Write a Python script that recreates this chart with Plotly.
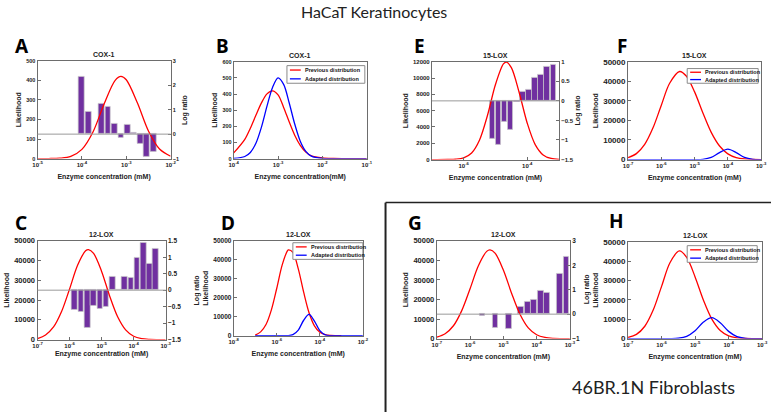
import plotly.graph_objects as go

W, H = 777, 417

# ---------------- data (x values are log10 of enzyme concentration, mM) ----------------
# A: COX-1 (HaCaT)
a_bar_x = [-4.00, -3.85, -3.56, -3.41, -3.27, -3.12, -2.97, -2.83, -2.68, -2.54, -2.38]
a_bar_y = [2.33, 0.93, 1.23, 1.12, 0.43, -0.13, 0.37, 0.04, -0.40, -0.93, -0.71]
a_prev_x = [-5, -4.75, -4.5, -4.25, -4.0, -3.75, -3.5, -3.25, -3.12, -3.0, -2.75, -2.5, -2.25, -2.0]
a_prev_y = [0, 0.2, 2, 11, 47, 136, 279, 400, 420, 403, 285, 141, 49, 12]

# B: COX-1 previous vs adapted
b_x = [-4, -3.75, -3.625, -3.5, -3.375, -3.25, -3.125, -3.0, -2.875, -2.75, -2.625, -2.5,
       -2.375, -2.25, -2.0, -1.75, -1.5, -1.0]
b_prev = [35, 119, 188, 268, 345, 401, 420, 395, 317, 228, 145, 82, 40, 17, 4, 0.5, 0, 0]
b_adapt = [0.8, 13, 38, 95, 195, 325, 441, 500, 460, 346, 214, 108, 45, 15, 1, 0, 0, 0]

# E: 15-LOX (HaCaT)
e_bar_x = [-5.10, -4.91, -4.72, -4.53, -4.33, -4.14, -3.95, -3.76, -3.57, -3.38, -3.19]
e_bar_y = [-0.96, -1.11, -0.54, -0.75, -0.03, 0.24, 0.28, 0.58, 0.68, 0.875, 0.93]
e_prev_x = [-7, -6.5, -6.25, -6.0, -5.75, -5.5, -5.25, -5.0, -4.75, -4.66, -4.5, -4.25, -4.0,
            -3.75, -3.5, -3.25, -3.0]
e_prev_y = [0, 6, 39, 206, 811, 2410, 5430, 9200, 11730, 11950, 11280, 8170, 4460, 1840, 570, 133, 20]

# F: 15-LOX previous vs adapted
f_prev_x = [-7, -6.75, -6.5, -6.25, -6.0, -5.75, -5.45, -5.25, -5.0, -4.75, -4.5, -4.25, -4.0,
            -3.75, -3.5, -3.25, -3.0]
f_prev_y = [980, 3030, 7750, 16200, 27800, 38980, 45000, 42700, 34600, 23800, 13900, 6940, 2930,
            1050, 320, 80, 15]
f_adapt_x = [-7, -6, -5.25, -5.0, -4.75, -4.5, -4.25, -4.0, -3.75, -3.5, -3.25, -3.0]
f_adapt_y = [0, 0, 0, 9, 150, 1090, 3590, 5350, 3590, 1090, 150, 9]

# C: 12-LOX (HaCaT)
c_bar_x = [-5.84, -5.64, -5.44, -5.25, -5.05, -4.86, -4.66, -4.47, -4.28, -4.08, -3.89, -3.70, -3.50, -3.31]
c_bar_y = [-0.59, -0.66, -1.14, -0.47, -0.56, -0.49, 0.41, 0.02, 0.41, 0.38, 0.99, 1.45, 0.79, 1.25]
c_prev_x = [-7, -6.75, -6.5, -6.25, -6.0, -5.75, -5.5, -5.41, -5.25, -5.0, -4.75, -4.5, -4.25,
            -4.0, -3.75, -3.5, -3.25, -3.0]
c_prev_y = [500, 2340, 6380, 14180, 25600, 37600, 44900, 45500, 43600, 34500, 22100, 11550, 4920,
            1690, 480, 110, 20, 0]

# D: 12-LOX previous vs adapted (HaCaT)
d_prev_x = [-7, -6.75, -6.5, -6.25, -6.0, -5.75, -5.5, -5.46, -5.25, -5.0, -4.75, -4.5, -4.25,
            -4.0, -3.75, -3.5, -3.25, -3.0]
d_prev_y = [300, 2000, 5900, 13600, 25000, 37200, 44800, 45200, 43900, 35200, 22900, 12100, 5200,
            1800, 520, 120, 22, 0]
d_adapt_x = [-7, -6, -5.75, -5.5, -5.25, -5.0, -4.75, -4.5, -4.25, -4.0, -3.75, -3.5, -3.25, -3.0, -2.0]
d_adapt_y = [0, 0, 3, 48, 535, 2950, 8130, 11200, 7690, 2640, 452, 39, 2, 0, 0]

# G: 12-LOX (46BR.1N)
g_bar_x = [-5.63, -5.24, -4.84, -4.47, -4.27, -4.08, -3.88, -3.69, -3.31, -3.11]
g_bar_y = [-0.05, -0.57, -0.60, 0.29, 0.49, 0.59, 0.95, 0.87, 1.65, 2.35]
g_prev_x = [-7, -6.75, -6.5, -6.25, -6.0, -5.75, -5.5, -5.40, -5.25, -5.0, -4.75, -4.5, -4.25,
            -4.0, -3.75, -3.5, -3.25, -3.0]
g_prev_y = [765, 2490, 6570, 14310, 25500, 37240, 44580, 45300, 43700, 35100, 23100, 12460, 5490,
            1980, 590, 140, 30, 5]

# H: 12-LOX previous vs adapted (46BR.1N)
h_prev_x = [-7, -6.75, -6.5, -6.25, -6.0, -5.75, -5.47, -5.25, -5.0, -4.75, -4.5, -4.25, -4.0,
            -3.75, -3.5, -3.25, -3.0]
h_prev_y = [600, 2190, 6380, 14720, 26970, 39190, 45300, 41940, 31850, 19810, 10100, 4220, 1440,
            403, 95, 18, 3]
h_adapt_x = [-7, -6, -5.75, -5.5, -5.25, -5.0, -4.75, -4.5, -4.25, -4.0, -3.75, -3.5, -3.25, -3.0]
h_adapt_y = [0, 0, 20, 198, 1156, 4050, 8540, 10800, 8200, 3740, 1020, 168, 17, 0]

legend_labels = ["Previous distribution", "Adapted distribution"]

XT = "Enzyme concentration (mM)"
panels = [
    dict(letter="A", box=(33, 58, 168, 158), xr=[-5, -2], xt=[-5, -4, -3, -2], yl=[0, 500], dl=100,
         yr=[-1, 3], dr=1, title="COX-1", xtitle=XT, lpos=(17, 43), yfs=5.5, xso=7, rx=182,
         bars=(a_bar_x, a_bar_y, 0.13), prev=(a_prev_x, a_prev_y), adapt=None),
    dict(letter="B", box=(232, 59, 367, 158), xr=[-4, -1], xt=[-4, -3, -2, -1], yl=[0, 600], dl=100,
         yr=None, title="COX-1", xtitle="Enzyme concentration(mM)", lpos=(221, 43), yfs=5.5, xso=7,
         bars=None, prev=(b_x, b_prev), adapt=(b_x, b_adapt), leg=(286, 63, 365, 81)),
    dict(letter="E", box=(433, 59, 562, 159), xr=[-7, -3], xt=[-6, -4], yl=[0, 12000], dl=2000,
         yr=[-1.5, 1], dr=0.5, title="15-LOX", xtitle=XT, lpos=(420, 43), yfs=6, xso=7, rx=581,
         bars=(e_bar_x, e_bar_y, 0.165), prev=(e_prev_x, e_prev_y), adapt=None),
    dict(letter="F", box=(632, 59, 767, 159), xr=[-7, -3], xt=[-7, -6, -5, -4, -3], yl=[0, 50000], dl=10000,
         yr=None, title="15-LOX", xtitle=XT, lpos=(626, 43), yfs=8, xso=7,
         bars=None, prev=(f_prev_x, f_prev_y), adapt=(f_adapt_x, f_adapt_y), leg=(692, 66, 764, 81)),
    dict(letter="C", box=(33, 242, 163, 343), xr=[-7, -3], xt=[-7, -6, -5, -4, -3], yl=[0, 50000], dl=10000,
         yr=[-1.5, 1.5], dr=0.5, title="12-LOX", xtitle=XT, lpos=(16, 224), yfs=7.5, xso=3, rx=195,
         bars=(c_bar_x, c_bar_y, 0.175), prev=(c_prev_x, c_prev_y), adapt=None),
    dict(letter="D", box=(232, 242, 363, 339), xr=[-8, -2], xt=[-8, -6, -4, -2], yl=[0, 50000], dl=10000,
         yr=None, title="12-LOX", xtitle=XT, lpos=(226, 224), yfs=6.5, xso=7,
         bars=None, prev=(d_prev_x, d_prev_y), adapt=(d_adapt_x, d_adapt_y), leg=(292, 244, 363, 261)),
    dict(letter="G", box=(438, 242, 573, 342), xr=[-7, -3], xt=[-7, -6, -5, -4, -3], yl=[0, 50000], dl=10000,
         yr=[-1, 3], dr=1, title="12-LOX", xtitle=XT, lpos=(416, 224), yfs=7.5, xso=7, rx=590,
         bars=(g_bar_x, g_bar_y, 0.165), prev=(g_prev_x, g_prev_y), adapt=None),
    dict(letter="H", box=(632, 243, 768, 342), xr=[-7, -3], xt=[-7, -6, -5, -4, -3], yl=[0, 50000], dl=10000,
         yr=None, title="12-LOX", xtitle=XT, lpos=(620, 222), yfs=8, xso=7,
         bars=None, prev=(h_prev_x, h_prev_y), adapt=(h_adapt_x, h_adapt_y), leg=(692, 247, 763, 264)),
]

FONT = "Arial, Liberation Sans, sans-serif"
AX = "#6d6d6d"
RED, BLUE, PURPLE = "#FF0000", "#0000FF", "#7030A0"

fig = go.Figure()
layout = {}
annotations = []
shapes = []


def aname(kind, n):
    return kind if n == 1 else f"{kind}{n}"


def px2x(v):
    return v / W


def px2y(v):
    return 1 - v / H


right_n = 9
for i, p in enumerate(panels):
    n = i + 1
    l, t, r, b = p["box"]
    xdom = [px2x(l), px2x(r)]
    ydom = [px2y(b), px2y(t)]
    xid, yid = aname("x", n), aname("y", n)
    tickfont = dict(family=FONT, size=p["yfs"], color="#222", weight="bold")
    xtickfont = dict(family=FONT, size=6, color="#222")
    titlefont = dict(family=FONT, size=7, color="#222", weight="bold")

    if p["bars"] is not None:
        rn = right_n
        right_n += 1
        rid = aname("y", rn)
        layout[f"yaxis{rn}"] = dict(domain=ydom, anchor=xid, side="right", range=p["yr"], dtick=p["dr"],
                                    showgrid=False, zeroline=False, showline=True, linecolor=AX,
                                    linewidth=1, ticks="inside", ticklen=3, tickcolor=AX,
                                    tickfont=tickfont if p["yfs"] < 7 else dict(tickfont, size=6.5))
        annotations.append(dict(text="<b>Log ratio</b>", x=px2x(p["rx"]), y=px2y((t + b) / 2),
                                xref="paper", yref="paper", xanchor="center", yanchor="middle",
                                textangle=-90, showarrow=False,
                                font=dict(family=FONT, size=7, color="#222")))
        layout[f"yaxis{n}"] = dict(overlaying=rid, anchor=xid, side="left", range=p["yl"], dtick=p["dl"],
                                   tickformat="d", showgrid=False, zeroline=False, showline=True,
                                   linecolor=AX, linewidth=1, ticks="inside", ticklen=3, tickcolor=AX,
                                   tickfont=tickfont, title=dict(text="Likelihood", font=titlefont, standoff=3))
        xanchor = rid
        bx, by, bw = p["bars"]
        fig.add_trace(go.Bar(x=bx, y=by, width=bw, xaxis=xid, yaxis=rid, showlegend=False,
                             marker=dict(color=PURPLE, line=dict(color="#c8c8c8", width=0.7))))
        shapes.append(dict(type="line", xref=f"{xid} domain", yref=rid, x0=0, x1=1, y0=0, y1=0,
                           line=dict(color="#9a9a9a", width=1)))
    else:
        layout[f"yaxis{n}"] = dict(domain=ydom, anchor=xid, range=p["yl"], dtick=p["dl"], tickformat="d",
                                   showgrid=False, zeroline=False, showline=True, mirror=True,
                                   linecolor=AX, linewidth=1, ticks="inside", ticklen=3, tickcolor=AX,
                                   tickfont=tickfont, title=dict(text="Likelihood", font=titlefont, standoff=3))
        xanchor = yid

    layout[f"xaxis{n}"] = dict(domain=xdom, anchor=xanchor, range=p["xr"], tickvals=p["xt"],
                               ticktext=[f"<b>10<sup>{v}</sup></b>" for v in p["xt"]],
                               showgrid=False, zeroline=False, showline=True, mirror=True,
                               linecolor=AX, linewidth=1, ticks="inside", ticklen=3, tickcolor=AX,
                               tickfont=xtickfont,
                               title=dict(text=p["xtitle"], font=titlefont, standoff=p["xso"]))

    px_, py_ = p["prev"]
    fig.add_trace(go.Scatter(x=px_, y=py_, xaxis=xid, yaxis=yid, mode="lines",
                             line=dict(color=RED, width=1.3, shape="spline", smoothing=0.9),
                             name=legend_labels[0], showlegend=False))
    if p["adapt"] is not None:
        qx, qy = p["adapt"]
        fig.add_trace(go.Scatter(x=qx, y=qy, xaxis=xid, yaxis=yid, mode="lines",
                                 line=dict(color=BLUE, width=1.3, shape="spline", smoothing=0.9),
                                 name=legend_labels[1], showlegend=False))
        # compact MATLAB-style legend box
        ll, lt, lr, lb = p["leg"]
        shapes.append(dict(type="rect", xref="paper", yref="paper", x0=px2x(ll), x1=px2x(lr),
                           y0=px2y(lb), y1=px2y(lt), line=dict(color="#8a8a8a", width=1),
                           fillcolor="white", layer="above"))
        rowh = (lb - lt) / 2
        for k, (lab, col) in enumerate(zip(legend_labels, [RED, BLUE])):
            yy = lt + rowh * (k + 0.5)
            shapes.append(dict(type="line", xref="paper", yref="paper", x0=px2x(ll + 3), x1=px2x(ll + 14),
                               y0=px2y(yy), y1=px2y(yy), line=dict(color=col, width=1.3), layer="above"))
            annotations.append(dict(text=f"<b>{lab}</b>", x=px2x(ll + 16), y=px2y(yy), xref="paper",
                                    yref="paper", xanchor="left", yanchor="middle", showarrow=False,
                                    font=dict(family=FONT, size=5.5, color="#111")))

    annotations.append(dict(text=f"<b>{p['title']}</b>", x=px2x((l + r) / 2), y=px2y(t - 1),
                            xref="paper", yref="paper", xanchor="center", yanchor="bottom", showarrow=False,
                            font=dict(family=FONT, size=7, color="#222")))
    annotations.append(dict(text=f"<b>{p['letter']}</b>", x=px2x(p["lpos"][0]), y=px2y(p["lpos"][1]),
                            xref="paper", yref="paper", xanchor="center", yanchor="middle", showarrow=False,
                            font=dict(family="Noto Sans, sans-serif", size=19, color="#000")))

annotations.append(dict(text="HaCaT Keratinocytes", x=px2x(374), y=px2y(8), xref="paper", yref="paper",
                        xanchor="center", yanchor="middle", showarrow=False,
                        font=dict(family="Lato, sans-serif", size=16, color="#222")))
annotations.append(dict(text="46BR.1N Fibroblasts", x=px2x(658), y=px2y(391), xref="paper", yref="paper",
                        xanchor="center", yanchor="middle", showarrow=False,
                        font=dict(family="Lato, sans-serif", size=18, color="#222")))

# frame around fibroblast panels
shapes.append(dict(type="line", xref="paper", yref="paper", x0=px2x(386), x1=px2x(386), y0=0, y1=px2y(203),
                   line=dict(color="#222", width=2)))
shapes.append(dict(type="line", xref="paper", yref="paper", x0=px2x(386), x1=1, y0=px2y(203), y1=px2y(203),
                   line=dict(color="#222", width=1.5)))

fig.update_layout(width=W, height=H, margin=dict(l=0, r=0, t=0, b=0), plot_bgcolor="white",
                  paper_bgcolor="white", annotations=annotations, shapes=shapes, bargap=0,
                  showlegend=False, **layout)
fig.write_html("out.html", config={"displayModeBar": False},
               post_script="document.body.style.margin='0';")
